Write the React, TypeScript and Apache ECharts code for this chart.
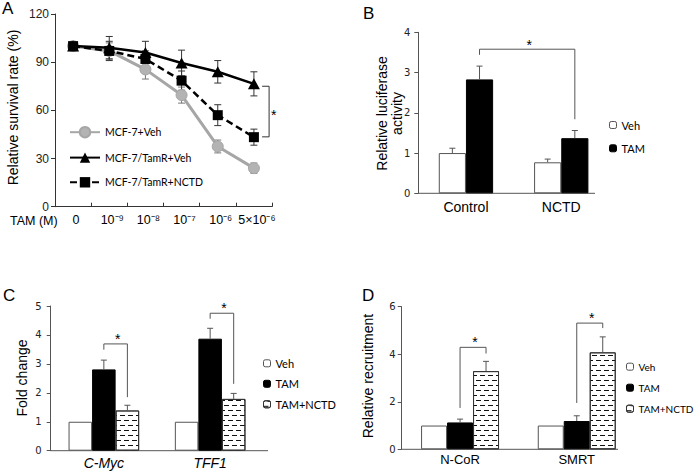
import React, { useEffect, useRef } from 'react';
import * as echarts from 'echarts';

// ---------- Panel A: survival curves ----------
const doseLabels = ['0', '10⁻⁹', '10⁻⁸', '10⁻⁷', '10⁻⁶', '5×10⁻⁶'];
const mcf7Veh = [100, 97, 85.5, 69.5, 37.5, 24];
const mcf7VehErr = [0, 5, 6, 5, 4, 3.2];
const tamRVeh = [100, 99, 96, 89.5, 84, 76.5];
const tamRVehErr = [0, 7, 7, 8, 7, 7.5];
const tamRNctd = [100, 97, 92, 78.5, 57, 43.3];
const tamRNctdErr = [0, 6, 5, 6, 6.5, 5];
const bracketA = [[5, 75, 43.5]];

// ---------- Panel B: luciferase ----------
const lucCats = ['Control', 'NCTD'];
const lucVeh = [1.0, 0.77];
const lucVehErr = [0.12, 0.08];
const lucTam = [2.83, 1.37];
const lucTamErr = [0.33, 0.19];
const bracketB = [[0, 1, 1, 1, 3.44, 3.58, 1.84]];

// ---------- Panel C: fold change ----------
const geneCats = ['C-Myc', 'TFF1'];
const geneVeh = [1, 1];
const geneTam = [2.81, 3.87];
const geneTamErr = [0.32, 0.36];
const geneNctd = [1.39, 1.79];
const geneNctdErr = [0.18, 0.19];
const bracketC = [
  [0, 1, 0, 2, 3.49, 3.69, 1.85],
  [1, 1, 1, 2, 4.56, 4.75, 2.31],
];

// ---------- Panel D: recruitment ----------
const recCats = ['N-CoR', 'SMRT'];
const recVeh = [1, 1];
const recTam = [1.13, 1.19];
const recTamErr = [0.14, 0.22];
const recNctd = [3.29, 4.08];
const recNctdErr = [0.41, 0.65];
const bracketD = [
  [0, 1, 0, 2, 1.74, 4.29, 4.03],
  [1, 1, 1, 2, 1.95, 5.31, 5.1],
];

const ARIAL = 'Liberation Sans, Arial, sans-serif';
const TICKF = 'DejaVu Sans, Verdana, sans-serif';
const LEGF = 'Lato, Liberation Sans, sans-serif';
const AXC = '#555';

const hatch = {
  symbol: 'rect',
  symbolSize: 1,
  color: '#111',
  backgroundColor: '#fff',
  dashArrayX: [[5, 3], [1, 3, 4, 0]],
  dashArrayY: [1, 4],
  rotation: 0,
};

const vehStyle = { color: '#fff', borderColor: '#555', borderWidth: 1 };
const tamStyle = { color: '#000', borderColor: '#000', borderWidth: 1 };
const nctdStyle = { color: '#fff', borderColor: '#333', borderWidth: 1, decal: hatch };

function barErr(axis: number, vals: number[], errs: number[], k: number, n: number, gap: number) {
  return {
    type: 'custom',
    xAxisIndex: axis,
    yAxisIndex: axis,
    z: 5,
    silent: true,
    data: vals.map((v, i) => [i, v, errs[i]]),
    encode: { x: 0, y: 1 },
    renderItem: (params: any, api: any) => {
      const ci = api.value(0);
      const v = api.value(1);
      const e = api.value(2);
      const band = api.size([1, 0])[0];
      const bw = (band * (1 - gap)) / n;
      const dx = (k - (n - 1) / 2) * bw;
      const p0 = api.coord([ci, v]);
      const p1 = api.coord([ci, v + e]);
      const x = p0[0] + dx;
      const st = { stroke: '#555', lineWidth: 1, fill: null };
      return {
        type: 'group',
        children: [
          { type: 'line', shape: { x1: x, y1: p0[1], x2: x, y2: p1[1] }, style: st },
          { type: 'line', shape: { x1: x - 3, y1: p1[1], x2: x + 3, y2: p1[1] }, style: st },
        ],
      };
    },
  };
}

function bracket(axis: number, rows: number[][], n: number, gap: number, starOff: number) {
  return {
    type: 'custom',
    xAxisIndex: axis,
    yAxisIndex: axis,
    z: 6,
    silent: true,
    data: rows,
    encode: { x: 0, y: 5 },
    renderItem: (params: any, api: any) => {
      const band = api.size([1, 0])[0];
      const bw = (band * (1 - gap)) / n;
      const lc = api.value(0), ls = api.value(1), rc = api.value(2), rs = api.value(3);
      const xl = api.coord([lc, 0])[0] + (ls - (n - 1) / 2) * bw;
      const xr = api.coord([rc, 0])[0] + (rs - (n - 1) / 2) * bw;
      const yl = api.coord([lc, api.value(4)])[1];
      const yt = api.coord([lc, api.value(5)])[1];
      const yr = api.coord([rc, api.value(6)])[1];
      return {
        type: 'group',
        children: [
          {
            type: 'polyline',
            shape: { points: [[xl, yl], [xl, yt], [xr, yt], [xr, yr]] },
            style: { stroke: '#555', lineWidth: 1, fill: null },
          },
          {
            type: 'text',
            x: (xl + xr) / 2 + 2,
            y: yt - starOff,
            style: { text: '*', fontSize: 14, fontFamily: ARIAL, fill: '#000', align: 'center', verticalAlign: 'middle' },
          },
        ],
      };
    },
  };
}

function lineErr(vals: number[], errs: number[], color: string) {
  return {
    type: 'custom',
    xAxisIndex: 0,
    yAxisIndex: 0,
    z: 1,
    silent: true,
    data: vals.map((v, i) => [i, v, errs[i]]),
    encode: { x: 0, y: 1 },
    renderItem: (params: any, api: any) => {
      const ci = api.value(0);
      const v = api.value(1);
      const e = api.value(2);
      if (!e) return { type: 'group', children: [] };
      const hi = api.coord([ci, v + e]);
      const lo = api.coord([ci, v - e]);
      const x = hi[0];
      const st = { stroke: color, lineWidth: 1, fill: null };
      return {
        type: 'group',
        children: [
          { type: 'line', shape: { x1: x, y1: hi[1], x2: x, y2: lo[1] }, style: st },
          { type: 'line', shape: { x1: x - 3.5, y1: hi[1], x2: x + 3.5, y2: hi[1] }, style: st },
          { type: 'line', shape: { x1: x - 3.5, y1: lo[1], x2: x + 3.5, y2: lo[1] }, style: st },
        ],
      };
    },
  };
}

function bracketAserie() {
  return {
    type: 'custom',
    xAxisIndex: 0,
    yAxisIndex: 0,
    z: 6,
    silent: true,
    data: bracketA,
    encode: { x: 0, y: 1 },
    renderItem: (params: any, api: any) => {
      const band = api.size([1, 0])[0];
      const p1 = api.coord([api.value(0), api.value(1)]);
      const p2 = api.coord([api.value(0), api.value(2)]);
      const x = p1[0] + band * 0.42;
      return {
        type: 'group',
        children: [
          {
            type: 'polyline',
            shape: { points: [[x - 7, p1[1]], [x, p1[1]], [x, p2[1]], [x - 7, p2[1]]] },
            style: { stroke: '#333', lineWidth: 1, fill: null },
          },
          {
            type: 'text',
            x: x + 2,
            y: (p1[1] + p2[1]) / 2 + 3,
            style: { text: '*', fontSize: 14, fontFamily: ARIAL, fill: '#000', align: 'left', verticalAlign: 'middle' },
          },
        ],
      };
    },
  };
}

function valueAxis(grid: number, max: number, interval: number, fs: number, margin: number, fam: string, color: string) {
  return {
    type: 'value',
    gridIndex: grid,
    min: 0,
    max,
    interval,
    axisLine: { show: true, lineStyle: { color, width: 1 } },
    axisTick: { show: true, length: 4, lineStyle: { color } },
    splitLine: { show: false },
    axisLabel: { fontSize: fs, fontFamily: fam, color: '#222', margin },
  };
}

function catAxis(grid: number, data: string[], fs: number, margin: number, italic: boolean) {
  return {
    type: 'category',
    gridIndex: grid,
    data,
    boundaryGap: true,
    axisLine: { show: false },
    axisTick: { show: false },
    axisLabel: {
      interval: 0,
      fontSize: fs,
      fontFamily: ARIAL,
      color: '#000',
      margin,
      fontStyle: italic ? 'italic' : 'normal',
    },
  };
}

const smallLegend = (names: string[], left: number, top: number, gap: number, fs = 11) => ({
  data: names,
  orient: 'vertical',
  left,
  top,
  itemWidth: 7,
  itemHeight: 7,
  itemGap: gap,
  selectedMode: false,
  itemStyle: { borderWidth: 1 },
  textStyle: { fontFamily: LEGF, fontSize: fs, color: '#000', lineHeight: 13 },
});

const axisLineG = (x1: number, x2: number, y: number) => ({
  type: 'line',
  shape: { x1, y1: y, x2, y2: y },
  style: { stroke: AXC, lineWidth: 1 },
  silent: true,
});

const rotText = (text: string, x: number, y: number, fs: number, lh?: number) => ({
  type: 'text',
  x,
  y,
  rotation: Math.PI / 2,
  style: {
    text,
    fontSize: fs,
    fontFamily: ARIAL,
    fill: '#000',
    align: 'center',
    verticalAlign: 'middle',
    lineHeight: lh || fs * 1.2,
  },
});

const plainText = (text: string, x: number, y: number, fs: number, align = 'left') => ({
  type: 'text',
  x,
  y,
  style: { text, fontSize: fs, fontFamily: ARIAL, fill: '#000', align, verticalAlign: 'middle' },
});

export default function App() {
  const ref = useRef<HTMLDivElement>(null);
  useEffect(() => {
    if (!ref.current) return;
    const chart = echarts.init(ref.current, undefined, { renderer: 'svg' });
    const option: any = {
      animation: false,
      backgroundColor: '#fff',
      textStyle: { fontFamily: ARIAL },
      grid: [
        { left: 55, top: 14, width: 217, height: 192.7 },
        { left: 418.3, top: 32.3, width: 190.6, height: 161 },
        { left: 50.7, top: 306, width: 212.6, height: 144.7 },
        { left: 401.7, top: 306.7, width: 233.4, height: 142.6 },
      ],
      xAxis: [
        {
          type: 'category',
          gridIndex: 0,
          data: doseLabels,
          boundaryGap: true,
          axisLine: { lineStyle: { color: '#333', width: 1 } },
          axisTick: { show: true, inside: true, length: 4, lineStyle: { color: '#333' } },
          axisLabel: {
            interval: 0,
            margin: 7,
            color: '#000',
            fontSize: 12.5,
            fontFamily: ARIAL,
            padding: [0, 0, 0, 6],
          },
        },
        catAxis(1, lucCats, 14, 7, false),
        catAxis(2, geneCats, 14, 5, true),
        catAxis(3, recCats, 13, 4, false),
      ],
      yAxis: [
        valueAxis(0, 120, 30, 12, 6, ARIAL, '#333'),
        valueAxis(1, 4, 1, 10, 8, TICKF, AXC),
        valueAxis(2, 5, 1, 10, 9, TICKF, AXC),
        valueAxis(3, 6, 2, 10, 6, TICKF, AXC),
      ],
      legend: [
        {
          data: ['MCF-7+Veh', 'MCF-7/TamR+Veh', 'MCF-7/TamR+NCTD'],
          orient: 'vertical',
          left: 64,
          top: 121,
          itemWidth: 30,
          itemHeight: 13,
          itemGap: 13.7,
          selectedMode: false,
          textStyle: { fontFamily: LEGF, fontSize: 10.5, color: '#000' },
        },
        smallLegend(['Veh', 'TAM'], 604, 113.5, 10.3),
        smallLegend(['Veh', 'TAM', 'TAM+NCTD'], 258, 351.8, 7.5),
        smallLegend(['Veh', 'TAM', 'TAM+NCTD'], 621, 355.2, 8, 10),
      ],
      graphic: [
        plainText('A', 2, 8, 17),
        plainText('B', 363, 13, 17),
        plainText('C', 3, 295.5, 17),
        plainText('D', 362, 295.5, 17),
        plainText('TAM (M)', 10, 220.5, 12.5),
        rotText('Relative survival rate (%)', 13, 107.5, 14),
        rotText('Relative luciferase\nactivity', 389.5, 113.5, 14, 15.6),
        rotText('Fold change', 22, 378, 14),
        rotText('Relative recruitment', 368, 376, 14),
        axisLineG(418.3, 595, 193.3),
        axisLineG(50.7, 268, 450.7),
        axisLineG(401.7, 618, 449.3),
      ],
      series: [
        // Panel A
        lineErr(mcf7Veh, mcf7VehErr, '#777'),
        lineErr(tamRVeh, tamRVehErr, '#333'),
        lineErr(tamRNctd, tamRNctdErr, '#333'),
        {
          type: 'line',
          name: 'MCF-7+Veh',
          xAxisIndex: 0,
          yAxisIndex: 0,
          z: 2,
          data: mcf7Veh,
          symbol: 'circle',
          symbolSize: 11,
          lineStyle: { color: '#a6a6a6', width: 3 },
          itemStyle: { color: '#b3b3b3', borderColor: '#a6a6a6', borderWidth: 1 },
        },
        {
          type: 'line',
          name: 'MCF-7/TamR+Veh',
          xAxisIndex: 0,
          yAxisIndex: 0,
          z: 3,
          data: tamRVeh,
          symbol: 'triangle',
          symbolSize: [12, 11],
          lineStyle: { color: '#000', width: 2.5 },
          itemStyle: { color: '#000' },
        },
        {
          type: 'line',
          name: 'MCF-7/TamR+NCTD',
          xAxisIndex: 0,
          yAxisIndex: 0,
          z: 4,
          data: tamRNctd,
          symbol: 'rect',
          symbolSize: 10,
          lineStyle: { color: '#000', width: 2.5, type: [7, 4] },
          itemStyle: { color: '#000' },
        },
        bracketAserie(),
        // Panel B
        {
          type: 'bar', name: 'Veh', xAxisIndex: 1, yAxisIndex: 1, data: lucVeh,
          barGap: '0%', barCategoryGap: '43%', itemStyle: vehStyle,
        },
        {
          type: 'bar', name: 'TAM', xAxisIndex: 1, yAxisIndex: 1, data: lucTam,
          barGap: '0%', barCategoryGap: '43%', itemStyle: tamStyle,
        },
        barErr(1, lucVeh, lucVehErr, 0, 2, 0.43),
        barErr(1, lucTam, lucTamErr, 1, 2, 0.43),
        bracket(1, bracketB, 2, 0.43, 4),
        // Panel C
        {
          type: 'bar', name: 'Veh', xAxisIndex: 2, yAxisIndex: 2, data: geneVeh,
          barGap: '0%', barCategoryGap: '33.6%', itemStyle: vehStyle,
        },
        {
          type: 'bar', name: 'TAM', xAxisIndex: 2, yAxisIndex: 2, data: geneTam,
          barGap: '0%', barCategoryGap: '33.6%', itemStyle: tamStyle,
        },
        {
          type: 'bar', name: 'TAM+NCTD', xAxisIndex: 2, yAxisIndex: 2, data: geneNctd,
          barGap: '0%', barCategoryGap: '33.6%', itemStyle: nctdStyle,
        },
        barErr(2, geneTam, geneTamErr, 1, 3, 0.336),
        barErr(2, geneNctd, geneNctdErr, 2, 3, 0.336),
        bracket(2, bracketC, 3, 0.336, 5),
        // Panel D
        {
          type: 'bar', name: 'Veh', xAxisIndex: 3, yAxisIndex: 3, data: recVeh,
          barGap: '0%', barCategoryGap: '33.2%', itemStyle: vehStyle,
        },
        {
          type: 'bar', name: 'TAM', xAxisIndex: 3, yAxisIndex: 3, data: recTam,
          barGap: '0%', barCategoryGap: '33.2%', itemStyle: tamStyle,
        },
        {
          type: 'bar', name: 'TAM+NCTD', xAxisIndex: 3, yAxisIndex: 3, data: recNctd,
          barGap: '0%', barCategoryGap: '33.2%', itemStyle: nctdStyle,
        },
        barErr(3, recTam, recTamErr, 1, 3, 0.332),
        barErr(3, recNctd, recNctdErr, 2, 3, 0.332),
        bracket(3, bracketD, 3, 0.332, 5),
      ],
    };
    chart.setOption(option);
    return () => chart.dispose();
  }, []);
  return (
    <div
      ref={ref}
      style={{ position: 'fixed', left: 0, top: 0, width: 695, height: 471, background: '#fff' }}
    />
  );
}
